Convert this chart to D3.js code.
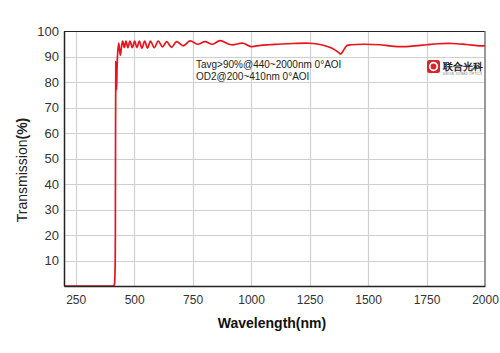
<!DOCTYPE html>
<html>
<head>
<meta charset="utf-8">
<script src="https://cdn.jsdelivr.net/npm/d3@7"></script>
<style>
  body { margin: 0; background: #fff; }
  text { font-family: "Liberation Sans", Arial, sans-serif; }
</style>
</head>
<body>
<svg id="chart" width="500" height="353"></svg>
<script>
// wavelength (nm) and transmission (%)
var wavelength = [200, 405, 412, 415, 418, 420, 421.5, 423, 425, 427, 430, 434, 437, 441, 446, 451, 458, 465, 473, 482, 492, 502, 512, 522, 533, 545, 557, 570, 586, 603, 621, 639, 660, 681, 710, 739, 771, 803, 835, 867, 915, 965, 1000, 1040, 1080, 1130, 1180, 1250, 1300, 1330, 1360, 1375, 1383, 1392, 1410, 1430, 1480, 1550, 1600, 1650, 1700, 1750, 1800, 1860, 1920, 1980, 2000];
var transmission = [0, 0, 0, 0.5, 5, 40, 88, 84, 77, 86, 92, 95.3, 93, 90.5, 94, 96, 93.5, 96, 93.5, 96, 93.5, 96, 93.5, 96, 93.3, 96, 93.3, 96, 93.5, 96, 93.8, 95.8, 93.6, 95.8, 94.2, 96.1, 94.8, 95.8, 94.8, 96.2, 94.6, 95.2, 93.9, 94.4, 94.6, 94.9, 95.1, 95.2, 94.6, 93.8, 92.5, 91.5, 91, 92, 94.3, 94.6, 94.8, 94.6, 94.1, 93.9, 94.2, 94.6, 95, 95.1, 94.7, 94.2, 94.3];
var xTicks = [250, 500, 750, 1000, 1250, 1500, 1750, 2000];
var yTicks = [10, 20, 30, 40, 50, 60, 70, 80, 90, 100];
var notes = ["Tavg>90%@440~2000nm 0°AOI", "OD2@200~410nm 0°AOI"];

var pLeft = 64, pRight = 485, pTop = 31, pBottom = 286;
var svg = d3.select("#chart");

var x = d3.scaleLinear().domain([200, 2000]).range([pLeft, pRight]);
var y = d3.scaleLinear().domain([0, 100]).range([pBottom, pTop]);

svg.append("clipPath").attr("id", "plot")
    .append("rect").attr("x", pLeft).attr("y", pTop - 5)
    .attr("width", pRight - pLeft).attr("height", pBottom - pTop + 6);

// grid
svg.append("g")
    .selectAll("line")
    .data(xTicks.filter(d => d < 2000))
    .join("line")
    .attr("x1", d => Math.round(x(d)) + 0.5).attr("x2", d => Math.round(x(d)) + 0.5)
    .attr("y1", pTop).attr("y2", pBottom)
    .attr("stroke", "#d0d0d0").attr("stroke-width", 1.2);

svg.append("g")
    .selectAll("line")
    .data(yTicks.filter(d => d < 100))
    .join("line")
    .attr("y1", d => Math.round(y(d)) + 0.5).attr("y2", d => Math.round(y(d)) + 0.5)
    .attr("x1", pLeft).attr("x2", pRight)
    .attr("stroke", "#d0d0d0").attr("stroke-width", 1.2);

// frame
svg.append("line").attr("x1", pLeft).attr("x2", pRight).attr("y1", pTop + 0.5).attr("y2", pTop + 0.5)
    .attr("stroke", "#222").attr("stroke-width", 1);
svg.append("line").attr("x1", pRight).attr("x2", pRight).attr("y1", pTop).attr("y2", pBottom)
    .attr("stroke", "#777").attr("stroke-width", 1.5);

// curve
var pts = wavelength.map((w, i) => [w, transmission[i]]);
svg.append("path")
    .datum(pts)
    .attr("clip-path", "url(#plot)")
    .attr("d", d3.line().x(d => x(d[0])).y(d => y(d[1])).curve(d3.curveCatmullRom.alpha(0.5)))
    .attr("fill", "none")
    .attr("stroke", "#e8141c")
    .attr("stroke-width", 1.7)
    .attr("stroke-linejoin", "round");

// axes
var xAxis = svg.append("g")
    .attr("transform", "translate(0," + pBottom + ")")
    .call(d3.axisBottom(x).tickValues(xTicks).tickSize(0).tickPadding(9).tickFormat(d3.format("d")));
xAxis.select(".domain").attr("stroke", "#222").attr("stroke-width", 1.5);
xAxis.selectAll("text").attr("font-size", 12).attr("fill", "#333")
    .attr("font-family", "Liberation Sans, Arial, sans-serif");

var yAxis = svg.append("g")
    .attr("transform", "translate(" + pLeft + ",0)")
    .call(d3.axisLeft(y).tickValues(yTicks).tickSize(0).tickPadding(5));
yAxis.select(".domain").attr("stroke", "#222").attr("stroke-width", 1.5);
yAxis.selectAll("text").attr("font-size", 13).attr("fill", "#333")
    .attr("font-family", "Liberation Sans, Arial, sans-serif");

// axis titles
svg.append("text")
    .attr("x", 272).attr("y", 328)
    .attr("text-anchor", "middle")
    .attr("font-size", 14).attr("font-weight", "bold")
    .attr("font-family", "Open Sans, sans-serif")
    .attr("fill", "#111")
    .text("Wavelength(nm)");

var yt = svg.append("text")
    .attr("transform", "translate(27,170) rotate(-90)")
    .attr("text-anchor", "middle")
    .attr("font-size", 14)
    .attr("fill", "#222");
yt.append("tspan").text("Transmission");
yt.append("tspan").attr("font-weight", "bold").text("(%)");

// annotations
svg.append("g")
    .selectAll("text")
    .data(notes)
    .join("text")
    .attr("x", 196)
    .attr("y", (d, i) => 68 + i * 11.5)
    .attr("font-size", 10)
    .attr("fill", "#222")
    .text(d => d);

// logo
var logo = svg.append("g");
logo.append("rect").attr("x", 427).attr("y", 60).attr("width", 13).attr("height", 13)
    .attr("rx", 2.5).attr("fill", "#d9232d");
logo.append("circle").attr("cx", 433.5).attr("cy", 66.5).attr("r", 3.8)
    .attr("fill", "none").attr("stroke", "#fff").attr("stroke-width", 1.8);
logo.append("text").attr("x", 443).attr("y", 70)
    .attr("font-size", 10).attr("font-weight", "bold")
    .attr("font-family", "Noto Sans CJK SC, sans-serif")
    .attr("fill", "#222")
    .text("联合光科");
logo.append("text").attr("x", 443).attr("y", 75)
    .attr("font-size", 2.6).attr("fill", "#555")
    .attr("textLength", 39)
    .text("UNION JOINED OPTICS");
</script>
</body>
</html>
